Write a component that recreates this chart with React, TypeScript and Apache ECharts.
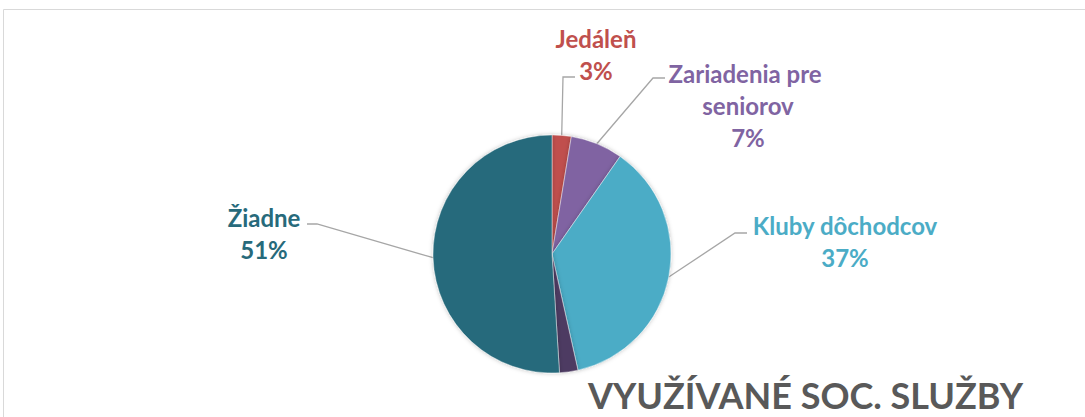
import React, { useEffect, useRef } from "react";
import * as echarts from "echarts";

const categories = ["Jedáleň", "Zariadenia pre seniorov", "Kluby dôchodcov", "Iné", "Žiadne"];
const values = [2.6, 7.1, 36.8, 2.5, 51.0];
const colors = ["#C0504D", "#8064A2", "#4BACC6", "#4D3B62", "#276A7B"];
const showLabel = [true, true, true, false, true];
const titleText = "VYUŽÍVANÉ SOC. SLUŽBY";

// label layout (center of text block, elbow and end of leader line)
const labelPos = [
  { x: 596, y: 54, elbow: [563, 77], end: [575, 77] },
  { x: 748, y: 105, elbow: [653, 78], end: [665, 78] },
  { x: 845, y: 241, elbow: [735, 233], end: [747, 233] },
  null,
  { x: 264, y: 233, elbow: [317, 224], end: [307, 224] },
];

export default function App() {
  const ref = useRef<HTMLDivElement>(null);
  useEffect(() => {
    if (!ref.current) return;
    const chart = echarts.init(ref.current, null, { renderer: "svg" });
    const font = "Lato";
    chart.setOption({
      animation: false,
      backgroundColor: "#ffffff",
      graphic: [
        {
          type: "rect",
          shape: { x: 3.5, y: 9.5, width: 1100, height: 500 },
          style: { fill: "none", stroke: "#d9d9d9", lineWidth: 1 },
          silent: true,
        },
        {
          type: "text",
          left: 588,
          top: 377,
          style: {
            text: titleText,
            fontFamily: font,
            fontWeight: "bold",
            fontSize: 36,
            lineHeight: 30,
            fill: "#595959",
          },
        },
      ],
      series: [
        {
          type: "pie",
          center: [552, 254],
          radius: 119,
          startAngle: 90,
          clockwise: true,
          itemStyle: {
            borderColor: "rgba(255,255,255,0.5)",
            borderWidth: 0.8,
            shadowBlur: 4,
            shadowColor: "rgba(0,0,0,0.25)",
          },
          label: {
            show: true,
            position: "outside",
            formatter: (p: any) => `${p.name}\n${Math.round(p.value)}%`,
            fontFamily: font,
            fontWeight: "bold",
            fontSize: 24,
            lineHeight: 32,
            align: "center",
          },
          labelLine: {
            show: true,
            lineStyle: { color: "#a6a6a6", width: 1.3 },
          },
          labelLayout: (params: any) => {
            const p = labelPos[params.dataIndex];
            if (!p) return {};
            const start = params.labelLinePoints ? params.labelLinePoints[0] : p.elbow;
            return {
              x: p.x,
              y: p.y,
              align: "center",
              verticalAlign: "middle",
              labelLinePoints: [start, p.elbow, p.end],
            };
          },
          data: categories.map((name, i) => ({
            name,
            value: values[i],
            itemStyle: { color: colors[i] },
            label: {
              show: showLabel[i],
              color: colors[i],
              ...(i === 1 ? { width: 175, overflow: "break" } : {}),
            },
            labelLine: { show: showLabel[i] },
          })),
        },
      ],
    });
    return () => chart.dispose();
  }, []);
  return (
    <div
      ref={ref}
      style={{ position: "fixed", left: 0, top: 0, width: 1085, height: 417 }}
    />
  );
}
